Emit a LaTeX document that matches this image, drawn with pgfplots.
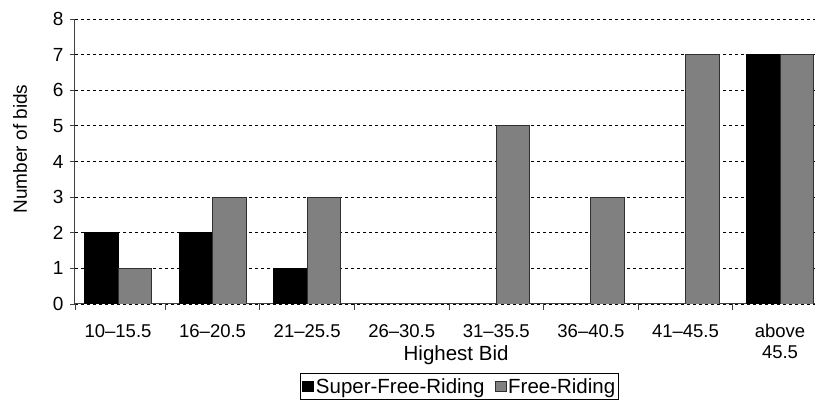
\documentclass[border=0pt]{standalone}
\usepackage{fontspec}
\setmainfont{Liberation Sans}
\usepackage{pgfplots}
\pgfplotsset{compat=1.18}
\definecolor{barGray}{HTML}{808080}
\definecolor{edgeGray}{HTML}{303030}
\definecolor{axisGray}{HTML}{404040}
\begin{document}
\begin{tikzpicture}
\begin{axis}[
	scale only axis,
	width = 740bp,
	height = 285bp,
	ybar = 0pt,
	bar width = 0.354,
	xmin = -0.455,
	xmax = 7.37,
	ymin = 0,
	ymax = 8,
	enlarge x limits = false,
	enlarge y limits = false,
	axis lines = left,
	axis line style = {axisGray, line width = 1bp, -},
	tick align = outside,
	major tick length = 5bp,
	minor tick length = 6bp,
	tick style = {axisGray, line width = 0.9bp},
	xtick = {0, 1, 2, 3, 4, 5, 6, 7},
	xticklabels = {10--15.5, 16--20.5, 21--25.5, 26--30.5, 31--35.5, 36--40.5, 41--45.5, {above\\45.5}},
	every major x tick/.append style = {draw = none},
	minor xtick = {-0.455, 0.5, 1.5, 2.5, 3.5, 4.5, 5.5, 6.5},
	xticklabel style = {align = center, font = \fontsize{18.5bp}{21bp}\selectfont, yshift = -12bp},
	ytick = {0, 1, 2, 3, 4, 5, 6, 7, 8},
	yticklabel style = {font = \fontsize{19bp}{22bp}\selectfont, xshift = -3bp},
	/pgf/number format/assume math mode = true,
	ymajorgrids,
	major grid style = {black, dash pattern = on 3bp off 3bp, line width = 0.8bp},
	xlabel = {Highest Bid},
	xlabel style = {at = {(axis description cs:0.515, 0)}, anchor = north, yshift = -38bp, font = \fontsize{20.5bp}{24bp}\selectfont},
	ylabel = {Number of bids},
	ylabel style = {at = {(axis description cs:-0.0743, 0.544)}, anchor = center, font = \fontsize{19bp}{22bp}\selectfont},
	legend columns = -1,
	legend style = {
		at = {(axis description cs:0.52, -0.242)},
		anchor = north,
		draw = black,
		line width = 0.8bp,
		font = \fontsize{20.5bp}{24bp}\selectfont,
		inner xsep = 1.5bp,
		inner ysep = 3bp,
		/tikz/every even column/.append style = {column sep = 8bp}
	},
	legend image code/.code = {
		\draw[#1, line width = 0.6bp] (0bp, -5bp) rectangle (11bp, 5bp);
	}
]
% zero counts are left out, as the source draws nothing there
\addplot[draw = black, fill = black, line width = 0.8bp] coordinates {
	(0, 2) (1, 2) (2, 1) (7, 7)
};
\addplot[draw = edgeGray, fill = barGray, line width = 0.8bp] coordinates {
	(0, 1) (1, 3) (2, 3) (4, 5) (5, 3) (6, 7) (7, 7)
};
\legend{Super-Free-Riding, Free-Riding}
\coordinate (bl) at (rel axis cs:0, 0);
\coordinate (tr) at (rel axis cs:1, 1);
\end{axis}
\pgfresetboundingbox
\useasboundingbox ([shift = {(-75bp, -97bp)}]bl) rectangle ([shift = {(0bp, 19bp)}]tr);
\end{tikzpicture}
\end{document}
